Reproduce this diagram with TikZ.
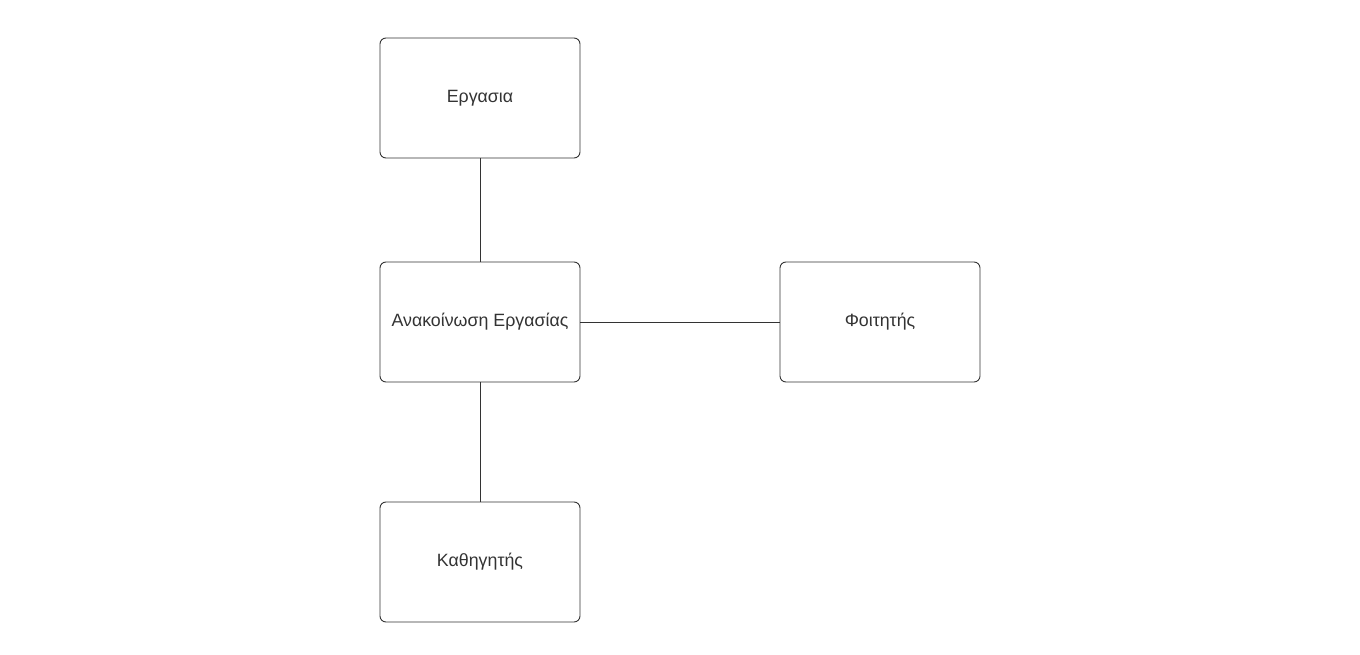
\documentclass[tikz,border=0pt]{standalone}
\usepackage{fontspec}
\setmainfont{Liberation Sans}
\begin{document}
\begin{tikzpicture}[x=1pt,y=-1pt,
  ent/.style={draw=black!80, line width=0.9pt, rounded corners=6pt, minimum width=200pt, minimum height=120pt, inner sep=0pt, text=black!80, font=\fontsize{17.8}{21}\selectfont},
  conn/.style={draw=black!80, line width=0.9pt}]
\useasboundingbox (0,0) rectangle (1360,655);
\node[ent] (erg) at (480,98) {Εργασια};
\node[ent] (anak) at (480,322) {Ανακοίνωση Εργασίας};
\node[ent] (foit) at (880,322) {Φοιτητής};
\node[ent] (kath) at (480,562) {Καθηγητής};
\draw[conn] (erg) -- (anak);
\draw[conn] (anak) -- (foit);
\draw[conn] (anak) -- (kath);
\end{tikzpicture}
\end{document}
